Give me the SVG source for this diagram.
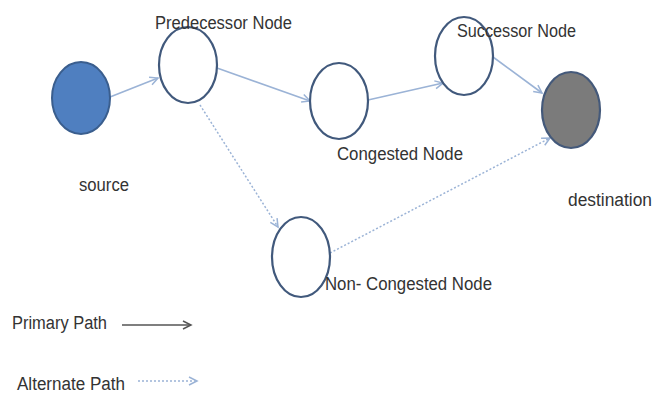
<svg xmlns="http://www.w3.org/2000/svg" width="654" height="394" viewBox="0 0 654 394">
  <defs>
    <style>
      .node { fill: #ffffff; stroke: #41597c; stroke-width: 2.2; }
      .src { fill: #4f7fc0; stroke: #3a5e8e; stroke-width: 2; }
      .dst { fill: #7b7b7b; stroke: #44597a; stroke-width: 2.2; }
      .lbl { font-family: "Liberation Sans", Arial, sans-serif; font-size: 18px; fill: #333333; }
      .edge { fill: none; stroke: #9bb3d6; stroke-width: 1.6; marker-end: url(#arrow); }
      .alt { fill: none; stroke: #9bb3d6; stroke-width: 1.5; stroke-dasharray: 2 2; marker-end: url(#arrow); }
      .key { fill: none; stroke: #555555; stroke-width: 1.5; marker-end: url(#arrowDark); }
    </style>
    <marker id="arrow" markerUnits="userSpaceOnUse" markerWidth="12" markerHeight="12" refX="9" refY="5" orient="auto">
      <path d="M1,1 L9,5 L1,9" fill="none" stroke="#9bb3d6" stroke-width="1.5"/>
    </marker>
    <marker id="arrowDark" markerUnits="userSpaceOnUse" markerWidth="12" markerHeight="12" refX="9" refY="5" orient="auto">
      <path d="M1,1 L9,5 L1,9" fill="none" stroke="#555555" stroke-width="1.5"/>
    </marker>
  </defs>

  <rect width="654" height="394" fill="#ffffff"/>

  <!-- links between nodes -->
  <g id="connectors">
    <line class="edge" x1="110" y1="97" x2="158" y2="78"/>
    <line class="edge" x1="217" y1="68" x2="310" y2="101"/>
    <line class="edge" x1="368" y1="100" x2="443" y2="83"/>
    <line class="edge" x1="493" y1="57" x2="542" y2="93"/>
    <line class="alt" x1="200" y1="105" x2="278" y2="227"/>
    <line class="alt" x1="330" y1="253" x2="550" y2="138"/>
  </g>

  <g id="source">
    <ellipse class="src" cx="81" cy="98" rx="29" ry="36"/>
    <text class="lbl" x="79" y="191" textLength="50" lengthAdjust="spacingAndGlyphs">source</text>
  </g>

  <g id="predecessor">
    <ellipse class="node" cx="188" cy="65" rx="29" ry="38"/>
    <text class="lbl" x="155" y="29" textLength="137" lengthAdjust="spacingAndGlyphs">Predecessor Node</text>
  </g>

  <g id="congested">
    <ellipse class="node" cx="339" cy="101" rx="29" ry="38"/>
    <text class="lbl" x="337" y="160" textLength="126" lengthAdjust="spacingAndGlyphs">Congested Node</text>
  </g>

  <g id="successor">
    <ellipse class="node" cx="464" cy="56" rx="29" ry="39"/>
    <text class="lbl" x="457" y="37" textLength="119" lengthAdjust="spacingAndGlyphs">Successor Node</text>
  </g>

  <g id="destination">
    <ellipse class="dst" cx="571" cy="110" rx="29" ry="38"/>
    <text class="lbl" x="568" y="206" textLength="84" lengthAdjust="spacingAndGlyphs">destination</text>
  </g>

  <g id="non-congested">
    <ellipse class="node" cx="301" cy="257" rx="29" ry="40"/>
    <text class="lbl" x="325" y="290" textLength="167" lengthAdjust="spacingAndGlyphs">Non- Congested Node</text>
  </g>

  <!-- key -->
  <g id="legend">
    <text class="lbl" x="12" y="329" textLength="95" lengthAdjust="spacingAndGlyphs">Primary Path</text>
    <line class="key" x1="122" y1="325" x2="191" y2="325"/>
    <text class="lbl" x="17" y="390" textLength="108" lengthAdjust="spacingAndGlyphs">Alternate Path</text>
    <line class="alt" x1="138" y1="381" x2="197" y2="381"/>
  </g>
</svg>
